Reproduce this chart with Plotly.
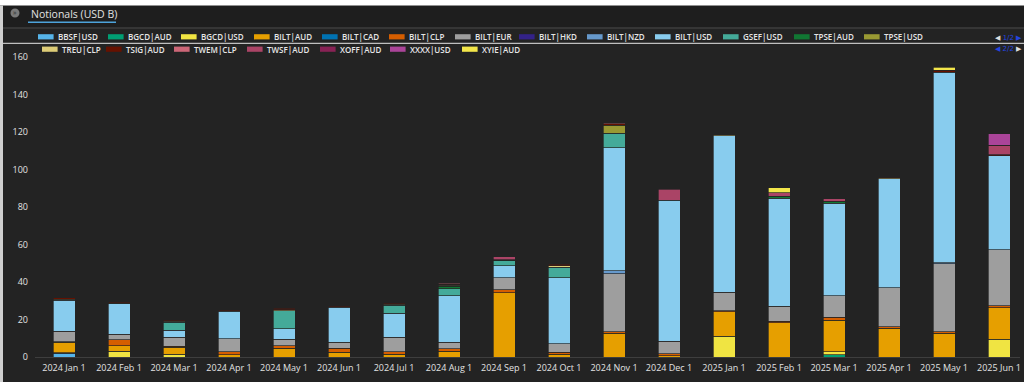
import plotly.graph_objects as go

months = ["2024 Jan 1", "2024 Feb 1", "2024 Mar 1", "2024 Apr 1", "2024 May 1", "2024 Jun 1",
          "2024 Jul 1", "2024 Aug 1", "2024 Sep 1", "2024 Oct 1", "2024 Nov 1", "2024 Dec 1",
          "2025 Jan 1", "2025 Feb 1", "2025 Mar 1", "2025 Apr 1", "2025 May 1", "2025 Jun 1"]

N = None
bbsf_usd = [2.1, N, N, N, N, N, N, N, N, N, N, N, N, N, N, N, N, N]
bgcd_aud = [N, N, N, N, N, N, N, N, N, N, N, N, N, N, 1.2, N, N, N]
bgcd_usd = [0.3, 3.0, 1.5, N, N, N, N, N, N, N, N, N, 11.0, N, 1.5, N, N, 9.6]
bilt_aud = [5.4, 3.0, 3.8, 1.2, 4.8, 2.5, 1.5, 3.2, 34.4, 1.6, 12.8, 0.8, 13.1, 18.4, 16.8, 15.4, 12.8, 16.8]
bilt_cad = [N] * 18
bilt_clp = [0.3, 3.1, 0.5, 1.5, 1.1, 2.1, 1.2, 1.1, 1.6, 1.0, 0.7, 1.0, 0.7, 0.6, 1.6, 0.7, 0.7, 1.0]
bilt_eur = [5.6, 3.0, 4.8, 7.1, 3.7, 3.2, 7.9, 3.5, 6.2, 4.5, 30.8, 6.5, 9.8, 8.0, 11.7, 20.8, 36.2, 29.7]
bilt_hkd = [N] * 18
bilt_nzd = [N, N, N, N, N, N, N, N, N, N, 1.6, N, N, N, N, N, 0.7, N]
bilt_usd = [16.5, 16.2, 3.8, 14.6, 5.6, 18.7, 12.8, 24.8, 6.6, 35.3, 65.6, 75.2, 83.4, 57.8, 49.2, 58.2, 101.4, 50.2]
gsef_usd = [N, N, 4.2, N, 9.6, N, 4.3, 3.9, 2.5, 5.6, 7.8, N, N, N, N, N, N, N]
tpse_aud = [N, N, N, N, N, N, N, 1.2, 0.3, N, N, N, N, 1.0, 0.7, N, N, N]
tpse_usd = [N, N, N, N, N, N, N, N, N, N, 4.4, N, N, N, N, N, N, N]
treu_clp = [0.7, 0.4, 0.4, 0.4, 0.5, 0.4, 0.4, 0.5, 0.3, 0.7, N, N, 0.5, N, 0.5, 0.4, N, N]
tsig_aud = [0.7, 0.5, 0.5, 0.4, 0.6, 0.4, 0.5, 0.6, N, 0.7, 0.7, N, N, N, N, 0.3, 1.2, 0.7]
twem_clp = [N, N, N, N, N, N, N, 0.6, N, N, 0.6, N, N, N, N, N, N, N]
twsf_aud = [N, N, N, N, N, N, N, N, 1.7, N, N, 6.0, N, 1.7, 1.2, N, N, 4.6]
xoff_aud = [N, N, N, N, N, N, N, N, N, N, N, N, N, N, N, N, N, 0.4]
xxxx_usd = [N, N, N, N, N, N, N, N, N, N, N, N, N, N, N, N, N, 6.2]
xyie_aud = [N, N, N, N, N, N, N, N, N, N, N, N, N, 2.7, N, N, 1.5, N]

series_names = ["BBSF|USD", "BGCD|AUD", "BGCD|USD", "BILT|AUD", "BILT|CAD", "BILT|CLP", "BILT|EUR",
                "BILT|HKD", "BILT|NZD", "BILT|USD", "GSEF|USD", "TPSE|AUD", "TPSE|USD", "TREU|CLP",
                "TSIG|AUD", "TWEM|CLP", "TWSF|AUD", "XOFF|AUD", "XXXX|USD", "XYIE|AUD"]
series_values = [bbsf_usd, bgcd_aud, bgcd_usd, bilt_aud, bilt_cad, bilt_clp, bilt_eur,
                 bilt_hkd, bilt_nzd, bilt_usd, gsef_usd, tpse_aud, tpse_usd, treu_clp,
                 tsig_aud, twem_clp, twsf_aud, xoff_aud, xxxx_usd, xyie_aud]
colors = ["#56B4E9", "#009E73", "#F0E442", "#E69F00", "#0072B2", "#D55E00", "#9E9E9E",
          "#332288", "#6699CC", "#88CCEE", "#44AA99", "#117733", "#999933", "#DDCC77",
          "#661100", "#CC6677", "#AA4466", "#882255", "#AA4499", "#F3E64A"]

y_ticks = [0, 20, 40, 60, 80, 100, 120, 140, 160]

# ---- layout geometry (pixels) ----
W, H = 1024, 382
ML, MR, MT, MB = 35, 4, 57, 25
PW, PH = W - ML - MR, H - MT - MB


def px_x(px):
    return (px - ML) / PW


def px_y(py):
    return (H - MB - py) / PH


fig = go.Figure()
for name, vals, col in zip(series_names, series_values, colors):
    fig.add_trace(go.Bar(
        name=name, x=months, y=vals,
        marker=dict(color=col, line=dict(color="rgba(35,35,35,0.85)", width=0.8)),
        showlegend=False,
    ))

BG = "#232323"
shapes = []
annotations = []

# page edges
shapes.append(dict(type="rect", xref="paper", yref="paper", x0=px_x(0), x1=px_x(W), y0=px_y(5.5), y1=px_y(0),
                   fillcolor="#ffffff", line=dict(width=0), layer="above"))
shapes.append(dict(type="rect", xref="paper", yref="paper", x0=px_x(0), x1=px_x(3), y0=px_y(H), y1=px_y(5.5),
                   fillcolor="#cfcfcf", line=dict(width=0), layer="above"))
# header band
shapes.append(dict(type="rect", xref="paper", yref="paper", x0=px_x(3), x1=px_x(W), y0=px_y(27.5), y1=px_y(5.5),
                   fillcolor="#1e1e1e", line=dict(width=0), layer="below"))
shapes.append(dict(type="line", xref="paper", yref="paper", x0=px_x(3), x1=px_x(W), y0=px_y(28), y1=px_y(28),
                   line=dict(color="#4a4a4a", width=1)))
# title underline
shapes.append(dict(type="rect", xref="paper", yref="paper", x0=px_x(28), x1=px_x(116), y0=px_y(23), y1=px_y(21.5),
                   fillcolor="#4da3db", line=dict(width=0)))
# icon
shapes.append(dict(type="circle", xref="paper", yref="paper", x0=px_x(10.5), x1=px_x(19.5), y0=px_y(17.5), y1=px_y(8.5),
                   fillcolor="#7a7a7a", line=dict(width=0)))
annotations.append(dict(xref="paper", yref="paper", x=px_x(15), y=px_y(13), text="»", showarrow=False,
                        font=dict(size=7, color="#2a2a2a", family="Open Sans"), xanchor="center", yanchor="middle"))
annotations.append(dict(xref="paper", yref="paper", x=px_x(29), y=px_y(14), text="Notionals (USD B)", showarrow=False,
                        font=dict(size=10.5, color="#e2e2e2", family="Open Sans"), xanchor="left", yanchor="middle"))
# separator line between legend rows
shapes.append(dict(type="line", xref="paper", yref="paper", x0=px_x(3), x1=px_x(W), y0=px_y(43.3), y1=px_y(43.3),
                   line=dict(color="#e6e6e6", width=1)))

# manual legend
legend_x = [38, 108, 181, 254, 322, 389, 455, 519, 587, 655, 723, 794, 864,
            42, 106, 174, 247, 320, 390, 462]
legend_row_y = [36.8] * 13 + [49.2] * 7
for name, col, lx, ly in zip(series_names, colors, legend_x, legend_row_y):
    shapes.append(dict(type="rect", xref="paper", yref="paper", x0=px_x(lx), x1=px_x(lx + 15.6),
                       y0=px_y(ly + 2.6), y1=px_y(ly - 2.6), fillcolor=col, line=dict(width=0)))
    annotations.append(dict(xref="paper", yref="paper", x=px_x(lx + 18), y=px_y(ly), text=name, showarrow=False,
                            font=dict(size=8, color="#e6e6e6", family="Open Sans", weight=600),
                            xanchor="left", yanchor="middle"))

# legend paging
annotations.append(dict(xref="paper", yref="paper", x=px_x(993), y=px_y(37.5),
                        text='<span style="color:#dddddd">◀</span> <span style="color:#2345e0">1/2 ▶</span>',
                        showarrow=False, font=dict(size=7, family="DejaVu Sans"), xanchor="left", yanchor="middle"))
annotations.append(dict(xref="paper", yref="paper", x=px_x(993), y=px_y(49),
                        text='<span style="color:#2345e0">◀ 2/2</span> <span style="color:#dddddd">▶</span>',
                        showarrow=False, font=dict(size=7, family="DejaVu Sans"), xanchor="left", yanchor="middle"))

band = 55.0
first_center = 64.0
x0 = -(first_center - ML) / band
x1 = x0 + PW / band

fig.update_layout(
    width=W, height=H,
    barmode="stack", bargap=0.6,
    paper_bgcolor=BG, plot_bgcolor=BG,
    margin=dict(l=ML, r=MR, t=MT, b=MB, pad=0),
    font=dict(family="Open Sans", size=9, color="#e2e2e2"),
    showlegend=False,
    shapes=shapes, annotations=annotations,
    xaxis=dict(type="category", range=[x0, x1], showgrid=False, zeroline=False,
               showline=True, linecolor="#3e3e3e", linewidth=1, ticks="",
               tickfont=dict(size=9, color="#e2e2e2", family="Open Sans"), ticklabelstandoff=2),
    yaxis=dict(range=[0, 160], tickvals=y_ticks, showgrid=False, zeroline=False, showline=False,
               ticks="", tickfont=dict(size=9, color="#e2e2e2", family="Open Sans"), ticklabelstandoff=6),
)

fig.write_html("out.html", config={"displayModeBar": False},
               post_script="document.body.style.margin='0';document.body.style.overflow='hidden';")
